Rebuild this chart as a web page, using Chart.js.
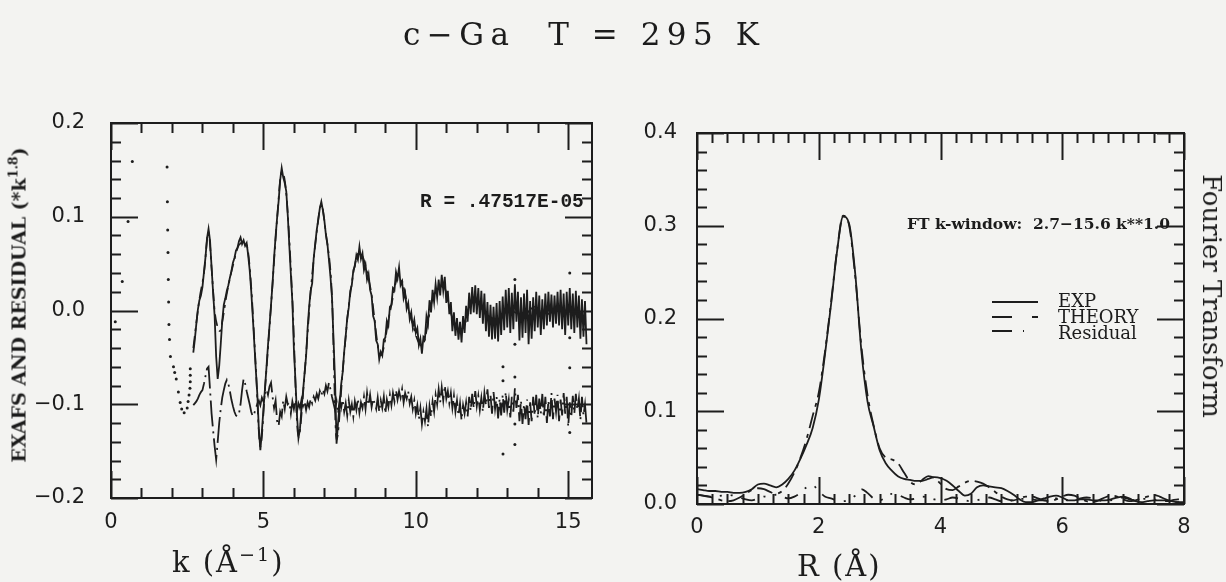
<!DOCTYPE html>
<html>
<head>
<meta charset="utf-8">
<script src="https://cdn.jsdelivr.net/npm/chart.js@4.4.1/dist/chart.umd.min.js"></script>
<style>
  html, body { margin: 0; padding: 0; background: #f3f3f1; }
  #page { position: relative; width: 1226px; height: 582px; overflow: hidden; background: #f3f3f1; }
  canvas { position: absolute; top: 0; }
  #cvK { left: 0; }
  #cvR { left: 613px; }
  .txt { position: absolute; color: #1c1c1c; white-space: pre; line-height: 1; }
  .serif { font-family: "DejaVu Serif", serif; }
  sup { font-size: 0.66em; position: relative; top: -0.15em; vertical-align: top; }
</style>
</head>
<body>
<div id="page">
  <canvas id="cvK" width="613" height="582"></canvas>
  <canvas id="cvR" width="613" height="582"></canvas>

  <div class="txt serif" style="left:403px; top:19px; font-size:31px; letter-spacing:6.5px;">c−Ga  T = 295 K</div>
  <div class="txt serif" style="left:172px; top:548px; font-size:29px; letter-spacing:2px;">k (Å<sup>−1</sup>)</div>
  <div class="txt serif" style="left:797px; top:552px; font-size:29px; letter-spacing:2px;">R (Å)</div>
  <div class="txt serif" style="left:1212px; top:296px; font-size:26px; transform: translate(-50%,-50%) rotate(90deg);">Fourier Transform</div>
  <div class="txt serif" style="left:19px; top:305px; font-size:19px; font-weight:bold; transform: translate(-50%,-50%) rotate(-90deg);">EXAFS AND RESIDUAL (*k<sup>1.8</sup>)</div>
  <div class="txt" style="left:420px; top:193px; font-family:'Liberation Mono', monospace; font-weight:bold; font-size:19.5px;">R = .47517E-05</div>
  <div class="txt serif" style="left:907px; top:216px; font-size:15.5px; font-weight:bold;">FT k-window:  2.7−15.6 k**1.0</div>
  <div class="txt serif" style="left:1058px; top:292px; font-size:18px;">EXP</div>
  <div class="txt serif" style="left:1058px; top:308px; font-size:18px;">THEORY</div>
  <div class="txt serif" style="left:1058px; top:324px; font-size:18px;">Residual</div>
</div>

<script>
// ---------- k-space EXAFS (left panel) ----------
// uniform k grid: K_START + i*K_STEP
const K_START = 2.70;
const K_STEP = 0.05;

// experimental chi(k)*k^1.8
const chiExp = [
  -0.045,-0.031,-0.014,0.001,0.011,0.016,0.025,0.041,0.057,0.077,
  0.087,0.074,0.046,0.019,-0.006,-0.049,-0.073,-0.059,-0.036,-0.011,
  0.006,0.013,0.021,0.027,0.035,0.042,0.051,0.056,0.064,0.067,
  0.074,0.078,0.071,0.075,0.069,0.072,0.059,0.043,0.021,-0.006,
  -0.034,-0.063,-0.089,-0.126,-0.149,-0.129,-0.106,-0.084,-0.061,-0.037,
  -0.016,0.006,0.029,0.056,0.079,0.099,0.117,0.139,0.152,0.142,
  0.136,0.127,0.101,0.069,0.039,0.009,-0.041,-0.074,-0.111,-0.136,
  -0.126,-0.104,-0.086,-0.067,-0.049,-0.019,0.004,0.021,0.029,0.056,
  0.071,0.086,0.097,0.109,0.116,0.107,0.096,0.081,0.071,0.054,
  0.036,0.014,-0.031,-0.074,-0.142,-0.119,-0.101,-0.079,-0.066,-0.044,
  -0.027,-0.008,0.003,0.021,0.027,0.043,0.047,0.059,0.054,0.068,
  0.055,0.061,0.043,0.049,0.033,0.039,0.022,0.016,-0.006,-0.011,
  -0.032,-0.036,-0.052,-0.044,-0.048,-0.031,-0.029,-0.011,-0.016,0.004,
  0.006,0.024,0.022,0.041,0.034,0.046,0.027,0.031,0.013,0.019,
  0.002,0.008,-0.009,-0.002,-0.018,-0.010,-0.024,-0.019,-0.037,-0.030,
  -0.046,-0.028,-0.030,-0.006,-0.014,0.011,-0.002,0.022,0.009,0.028,
  0.014,0.033,0.016,0.038,0.021,0.036,0.008,0.021,-0.004,0.009,
  -0.022,-0.002,-0.027,-0.008,-0.031,-0.012,-0.034,-0.006,-0.024,0.005,
  -0.012,0.019,-0.004,0.025,-0.002,0.027,-0.004,0.024,-0.008,0.021,
  -0.014,0.018,-0.022,0.009,-0.028,0.006,-0.031,0.004,-0.030,0.008,
  -0.033,0.010,-0.026,0.015,-0.021,0.022,-0.018,0.024,-0.024,0.019,
  -0.020,0.028,-0.012,0.020,-0.032,0.014,-0.029,0.018,-0.024,0.022,
  -0.036,0.010,-0.030,0.014,-0.022,0.020,-0.018,0.016,-0.026,0.012,
  -0.020,0.018,-0.016,0.020,-0.012,0.017,-0.018,0.016,-0.014,0.020,
  -0.016,0.022,-0.020,0.018,-0.026,0.020,-0.016,0.024,-0.020,0.018,
  -0.024,0.021,-0.018,0.016,-0.030,0.012,-0.028,0.010,-0.036
];

// residual (exp - theory), shifted by -0.1
const chiResidual = [
  -0.101,-0.099,-0.097,-0.094,-0.090,-0.087,-0.085,-0.078,-0.070,-0.062,
  -0.060,-0.085,-0.110,-0.128,-0.145,-0.159,-0.140,-0.120,-0.105,-0.093,
  -0.085,-0.078,-0.074,-0.078,-0.086,-0.095,-0.102,-0.108,-0.112,-0.113,
  -0.110,-0.100,-0.085,-0.073,-0.078,-0.086,-0.093,-0.100,-0.108,-0.113,
  -0.110,-0.104,-0.100,-0.096,-0.101,-0.093,-0.097,-0.088,-0.084,-0.090,
  -0.081,-0.077,-0.092,-0.104,-0.096,-0.118,-0.123,-0.108,-0.113,-0.096,
  -0.105,-0.092,-0.100,-0.098,-0.110,-0.097,-0.105,-0.096,-0.108,-0.099,
  -0.104,-0.095,-0.102,-0.097,-0.106,-0.098,-0.103,-0.094,-0.099,-0.092,
  -0.096,-0.089,-0.094,-0.086,-0.091,-0.084,-0.089,-0.080,-0.086,-0.077,
  -0.084,-0.092,-0.099,-0.106,-0.097,-0.110,-0.096,-0.104,-0.095,-0.108,
  -0.099,-0.112,-0.096,-0.108,-0.100,-0.113,-0.097,-0.106,-0.094,-0.109,
  -0.098,-0.104,-0.092,-0.105,-0.088,-0.101,-0.090,-0.103,-0.094,-0.099,
  -0.105,-0.093,-0.108,-0.096,-0.104,-0.092,-0.110,-0.095,-0.103,-0.090,
  -0.101,-0.088,-0.097,-0.085,-0.095,-0.086,-0.093,-0.084,-0.098,-0.088,
  -0.094,-0.086,-0.099,-0.092,-0.105,-0.096,-0.110,-0.101,-0.116,-0.104,
  -0.121,-0.108,-0.118,-0.105,-0.124,-0.102,-0.113,-0.097,-0.108,-0.090,
  -0.100,-0.084,-0.098,-0.082,-0.096,-0.080,-0.094,-0.086,-0.099,-0.088,
  -0.104,-0.091,-0.108,-0.096,-0.112,-0.099,-0.117,-0.101,-0.110,-0.098,
  -0.113,-0.092,-0.107,-0.089,-0.104,-0.086,-0.102,-0.091,-0.106,-0.093,
  -0.108,-0.088,-0.101,-0.084,-0.104,-0.090,-0.110,-0.087,-0.105,-0.092,
  -0.115,-0.094,-0.112,-0.090,-0.109,-0.087,-0.106,-0.095,-0.114,-0.092,
  -0.108,-0.083,-0.104,-0.090,-0.118,-0.096,-0.121,-0.100,-0.116,-0.095,
  -0.122,-0.098,-0.118,-0.092,-0.112,-0.090,-0.115,-0.094,-0.110,-0.089,
  -0.114,-0.092,-0.120,-0.096,-0.113,-0.088,-0.116,-0.094,-0.108,-0.090,
  -0.118,-0.095,-0.112,-0.088,-0.110,-0.092,-0.124,-0.098,-0.114,-0.091,
  -0.110,-0.089,-0.106,-0.094,-0.117,-0.092,-0.112,-0.100,-0.121
];

// fitted theory
const theoryK = [2.7,2.9,3.05,3.2,3.3,3.4,3.5,3.58,3.65,3.8,4.0,4.2,4.4,4.5,4.6,4.75,4.9,5.05,5.25,5.45,
  5.6,5.75,5.95,6.15,6.35,6.55,6.75,6.9,7.05,7.25,7.4,7.6,7.8,8.15,8.5,8.85,9.15,9.45,9.8,10.2,
  10.55,10.9,11.2,11.5,11.9,12.3,12.7,13.1,13.5,13.9,14.3,14.7,15.1,15.6];
const theoryChi = [-0.040,0.012,0.040,0.084,0.045,0.000,-0.018,-0.022,-0.012,0.018,0.048,0.070,0.073,0.062,0.025,-0.060,-0.145,-0.085,0.005,0.098,
  0.148,0.125,0.012,-0.135,-0.068,0.020,0.084,0.113,0.082,0.015,-0.138,-0.065,0.005,0.062,0.026,-0.048,-0.002,0.038,-0.004,-0.038,
  0.012,0.026,-0.008,-0.020,0.010,-0.004,-0.010,0.000,-0.006,0.004,-0.004,0.002,-0.004,-0.002];

// sparse points below the fit window
const lowDotK = [0.14,0.37,0.56,0.70,1.84,1.85,1.86,1.87,1.88,1.89,1.90,1.92,1.95,2.05,2.09,2.14,2.21,2.27,2.32,2.40,2.50,2.53,2.56,2.59,2.60,2.60,2.60];
const lowDotChi = [-0.012,0.031,0.095,0.159,0.153,0.116,0.086,0.062,0.033,0.009,-0.015,-0.031,-0.049,-0.060,-0.066,-0.073,-0.087,-0.098,-0.105,-0.109,-0.104,-0.097,-0.090,-0.083,-0.076,-0.069,-0.062];

// isolated glitch points
const glitchK = [12.86,12.86,12.86,13.25,13.25,13.25,13.25,13.25,15.05,15.05,15.05,15.05];
const glitchChi = [-0.060,-0.075,-0.153,0.033,-0.036,-0.071,-0.121,-0.143,0.040,-0.029,-0.061,-0.130];

const kTicks = [0, 5, 10, 15];
const chiTicks = [-0.2, -0.1, 0.0, 0.1, 0.2];

// ---------- Fourier transform (right panel) ----------
const R_STEP = 0.1;
const ftExp = [
  0.016,0.015,0.014,0.014,0.013,0.013,0.012,0.012,0.013,0.016,
  0.021,0.022,0.020,0.018,0.021,0.027,0.036,0.049,0.064,0.082,
  0.112,0.160,0.214,0.272,0.310,0.302,0.248,0.165,0.111,0.084,
  0.058,0.044,0.036,0.030,0.027,0.026,0.025,0.025,0.027,0.029,
  0.028,0.025,0.020,0.014,0.009,0.011,0.018,0.020,0.019,0.018,
  0.017,0.014,0.010,0.005,0.002,0.002,0.004,0.006,0.008,0.009,
  0.007,0.004,0.004,0.005,0.005,0.004,0.004,0.004,0.005,0.007,
  0.008,0.006,0.003,0.002,0.003,0.004,0.004,0.004,0.003,0.002,0.002
];
const ftTheory = [
  0.010,0.009,0.008,0.006,0.004,0.003,0.004,0.007,0.011,0.015,
  0.017,0.016,0.013,0.011,0.014,0.022,0.034,0.050,0.070,0.095,
  0.120,0.163,0.216,0.273,0.311,0.300,0.245,0.170,0.118,0.085,
  0.060,0.050,0.048,0.044,0.034,0.024,0.021,0.026,0.030,0.028,
  0.022,0.016,0.015,0.019,0.023,0.025,0.024,0.022,0.018,0.013,
  0.008,0.005,0.004,0.006,0.008,0.008,0.006,0.004,0.003,0.005,
  0.008,0.010,0.009,0.006,0.003,0.002,0.004,0.007,0.009,0.008,
  0.005,0.003,0.004,0.006,0.008,0.010,0.008,0.005,0.003,0.002,0.003
];
const ftResidual = [
  0.010,0.009,0.008,0.008,0.009,0.010,0.009,0.007,0.005,0.004,
  0.006,0.008,0.009,0.010,0.008,0.006,0.008,0.012,0.018,0.020,
  0.014,0.008,0.006,0.004,0.003,0.005,0.009,0.016,0.012,0.006,
  0.004,0.007,0.011,0.010,0.007,0.005,0.006,0.008,0.007,0.005,
  0.004,0.005,0.007,0.006,0.004,0.003,0.004,0.006,0.007,0.005,
  0.003,0.003,0.004,0.005,0.006,0.005,0.004,0.004,0.005,0.006,
  0.005,0.004,0.004,0.006,0.007,0.006,0.004,0.003,0.004,0.006,
  0.007,0.005,0.004,0.005,0.006,0.005,0.004,0.003,0.004,0.005,0.004
];
const rTicks = [0, 2, 4, 6, 8];
const ftTicks = [0.0, 0.1, 0.2, 0.3, 0.4];

// ---------- helpers ----------
const INK = '#1d1d1d';
const gridPts = (start, step, ys) => ys.map((y, i) => ({ x: +(start + i * step).toFixed(3), y }));
const pairPts = (xs, ys) => xs.map((x, i) => ({ x, y: ys[i] }));
const oneDec = v => Number(v).toFixed(1).replace('-', '\u2212');

// Frame box with inward major/minor ticks on all four sides
const frameTicks = {
  id: 'frameTicks',
  afterDatasetsDraw(chart, args, o) {
    const { ctx, chartArea: a, scales: { x, y } } = chart;
    ctx.save();
    ctx.strokeStyle = INK;
    ctx.lineWidth = 2;
    ctx.setLineDash([]);
    ctx.strokeRect(a.left, a.top, a.right - a.left, a.bottom - a.top);
    ctx.beginPath();
    const xTick = (v, len) => {
      const px = Math.round(x.getPixelForValue(v)) + 0.5;
      ctx.moveTo(px, a.bottom); ctx.lineTo(px, a.bottom - len);
      ctx.moveTo(px, a.top); ctx.lineTo(px, a.top + len);
    };
    const yTick = (v, len) => {
      const py = Math.round(y.getPixelForValue(v)) + 0.5;
      ctx.moveTo(a.left, py); ctx.lineTo(a.left + len, py);
      ctx.moveTo(a.right, py); ctx.lineTo(a.right - len, py);
    };
    for (let i = 0; i * o.xMinor <= x.max + 1e-9; i++) xTick(i * o.xMinor, o.minorLen);
    for (let i = Math.ceil(y.min / o.yMinor - 1e-9); i * o.yMinor <= y.max + 1e-9; i++) yTick(i * o.yMinor, o.minorLen);
    o.xMajor.forEach(v => xTick(v, o.majorLen));
    o.yMajor.forEach(v => yTick(v, o.majorLen));
    ctx.stroke();
    ctx.restore();
  }
};

// Legend samples drawn next to the text labels of the right panel
const lineKey = {
  id: 'lineKey',
  afterDatasetsDraw(chart, args, o) {
    if (!o.rows) return;
    const { ctx, chartArea: a } = chart;
    ctx.save();
    ctx.strokeStyle = INK;
    ctx.lineWidth = 2;
    o.rows.forEach(r => {
      ctx.setLineDash(r.dash);
      ctx.beginPath();
      ctx.moveTo(a.left + o.dx, a.top + r.dy);
      ctx.lineTo(a.left + o.dx + o.len, a.top + r.dy);
      ctx.stroke();
    });
    ctx.restore();
  }
};

const tickFont = { family: 'DejaVu Sans', size: 21 };

function axisX(min, max, ticks, height, pad) {
  return {
    type: 'linear', min, max,
    afterFit(s) { s.height = height; },
    afterBuildTicks(s) { s.ticks = ticks.map(v => ({ value: v })); },
    grid: { display: false, drawTicks: false },
    border: { display: false },
    ticks: { font: tickFont, color: INK, padding: pad, maxRotation: 0, autoSkip: false, callback: v => String(v) }
  };
}
function axisY(min, max, ticks, width, pad) {
  return {
    type: 'linear', min, max,
    afterFit(s) { s.width = width; },
    afterBuildTicks(s) { s.ticks = ticks.map(v => ({ value: v })); },
    grid: { display: false, drawTicks: false },
    border: { display: false },
    ticks: { font: tickFont, color: INK, padding: pad, autoSkip: false, callback: oneDec }
  };
}

const common = {
  responsive: false,
  animation: false,
  devicePixelRatio: 1,
  events: []
};

new Chart(document.getElementById('cvK'), {
  type: 'line',
  data: {
    datasets: [
      { label: 'EXP', data: gridPts(K_START, K_STEP, chiExp), borderColor: INK, borderWidth: 1.8, pointRadius: 0, tension: 0 },
      { label: 'THEORY', data: pairPts(theoryK, theoryChi), borderColor: INK, borderWidth: 1.7, borderDash: [12, 5, 3, 5], pointRadius: 0, cubicInterpolationMode: 'monotone' },
      { label: 'Residual', data: gridPts(K_START, K_STEP, chiResidual), borderColor: INK, borderWidth: 1.8, borderDash: [26, 5, 2, 5], pointRadius: 0, tension: 0 },
      { label: 'low k', data: pairPts(lowDotK, lowDotChi), showLine: false, pointRadius: 1.5, pointBorderWidth: 0, pointBackgroundColor: INK },
      { label: 'glitch', data: pairPts(glitchK, glitchChi), showLine: false, pointRadius: 1.5, pointBorderWidth: 0, pointBackgroundColor: INK }
    ]
  },
  options: {
    ...common,
    layout: { padding: { top: 123, right: 21, left: 0, bottom: 0 } },
    plugins: {
      legend: { display: false }, tooltip: { enabled: false },
      frameTicks: { xMinor: 1, yMinor: 0.02, xMajor: kTicks, yMajor: chiTicks, minorLen: 10, majorLen: 27 }
    },
    scales: {
      x: axisX(0, 15.78, kTicks, 84, 12),
      y: axisY(-0.2, 0.2, chiTicks, 111, 26)
    }
  },
  plugins: [frameTicks]
});

new Chart(document.getElementById('cvR'), {
  type: 'line',
  data: {
    datasets: [
      { label: 'EXP', data: gridPts(0, R_STEP, ftExp), borderColor: INK, borderWidth: 1.8, pointRadius: 0, cubicInterpolationMode: 'monotone' },
      { label: 'THEORY', data: gridPts(0, R_STEP, ftTheory), borderColor: INK, borderWidth: 1.8, borderDash: [16, 6, 4, 6], pointRadius: 0, cubicInterpolationMode: 'monotone' },
      { label: 'Residual', data: gridPts(0, R_STEP, ftResidual), borderColor: INK, borderWidth: 1.8, borderDash: [14, 9, 2, 9, 2, 9], pointRadius: 0, cubicInterpolationMode: 'monotone' }
    ]
  },
  options: {
    ...common,
    layout: { padding: { top: 133, right: 42, left: 0, bottom: 0 } },
    plugins: {
      legend: { display: false }, tooltip: { enabled: false },
      frameTicks: { xMinor: 0.25, yMinor: 0.02, xMajor: rTicks, yMajor: ftTicks, minorLen: 10, majorLen: 27 },
      lineKey: {
        dx: 295, len: 46,
        rows: [
          { dy: 169, dash: [] },
          { dy: 184, dash: [20, 20, 6, 40] },
          { dy: 198, dash: [20, 11, 1, 15, 1, 40] }
        ]
      }
    },
    scales: {
      x: axisX(0, 8, rTicks, 78, 11),
      y: axisY(0, 0.4, ftTicks, 84, 20)
    }
  },
  plugins: [frameTicks, lineKey]
});
</script>
</body>
</html>
